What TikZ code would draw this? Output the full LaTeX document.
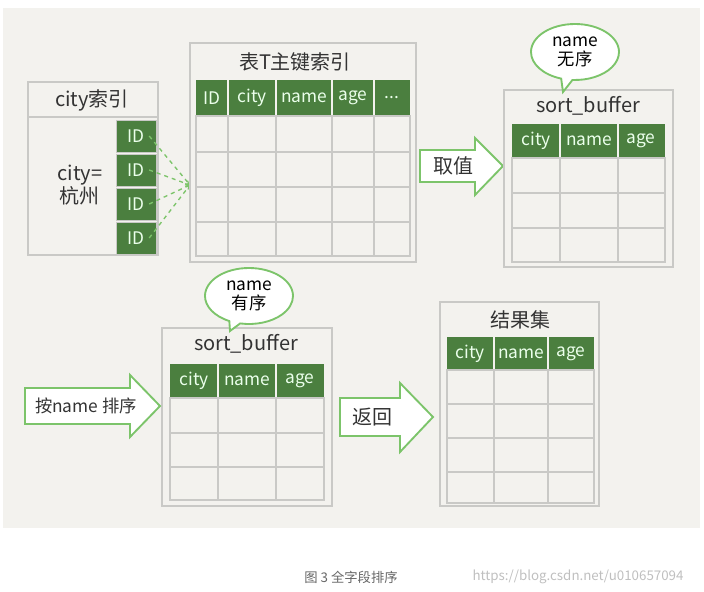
\documentclass[tikz,border=0pt]{standalone}
\usepackage{fontspec}
\setmainfont{Noto Sans CJK SC}
\usetikzlibrary{shapes.geometric,shapes.callouts}
\definecolor{bg}{HTML}{F3F2EE}
\definecolor{hd}{HTML}{4B7F3F}
\definecolor{gl}{HTML}{C9C9C6}
\definecolor{ga}{HTML}{7CC46A}
\tikzset{
  outer/.style={draw=gl,line width=1.6pt},
  grid/.style={draw=gl,line width=1.4pt},
  hdr/.style={fill=hd},
  ht/.style={text=white!92!green,font=\fontsize{13}{13}\selectfont},
  ttl/.style={text=black!80,font=\fontsize{15}{15}\selectfont},
  barrow/.style={draw=ga,line width=1.4pt,fill=white},
}
\begin{document}
\begin{tikzpicture}[x=0.75pt,y=-0.75pt]
\useasboundingbox (0,0) rectangle (704,592);
\fill[bg] (3,8) rectangle (700,528);
% city index
\draw[outer,fill=bg] (28,82) rectangle (158,255);
\draw[grid] (28,117) -- (158,117);
\node[ttl] (ct) at (92,100) {city索引};
\node[ttl,align=center] (cv) at (80,185) {city=\\杭州};
\foreach \y/\n in {120/a,154/b,188/c,222/d}{
  \draw[hdr,draw=gl] (116,\y) rectangle (156,\y+32);
  \node[ht] (id\n) at (136,\y+16) {ID};
}
\coordinate (tgt) at (190,185);
\foreach \n in {a,b,c,d} \draw[ga,dashed,line width=1pt,->] (id\n.east) -- (tgt);
% table T
\draw[outer] (190,43) rectangle (416,262);
\node[ttl] (tt) at (295,62) {表T主键索引};
\fill[hd] (196,80) rectangle (410,116);
\foreach \x in {228,276,332,374} \draw[bg,line width=1.4pt] (\x,80) -- (\x,116);
\foreach \x/\t in {212/ID,252/city,304/name,353/age} \node[ht] at (\x,98) {\t};
\node[ht] (dots) at (392,98) {{.}{.}{.}};
\foreach \y in {152,187,222} \draw[grid] (196,\y) -- (410,\y);
\foreach \x in {228,276,332,374} \draw[grid] (\x,116) -- (\x,256);
\draw[grid] (196,116) rectangle (410,256);
% arrow 取值
\draw[barrow] (420,150) -- (475,150) -- (475,138) -- (503,166) -- (475,195) -- (475,182) -- (420,182) -- cycle;
\node[ttl] (qz) at (453,166) {取值};
% sort buffer 1
\draw[outer] (504,90) rectangle (673,267);
\node[ttl] (sb1) at (588,106) {sort\_buffer};
\fill[hd] (512,124) rectangle (665,158);
\foreach \x in {560,618} \draw[bg,line width=1.4pt] (\x,124) -- (\x,158);
\foreach \x/\t in {536/city,589/name,641/age} \node[ht] at (\x,141) {\t};
\foreach \y in {193,228} \draw[grid] (512,\y) -- (665,\y);
\foreach \x in {560,618} \draw[grid] (\x,158) -- (\x,262);
\draw[grid] (512,158) rectangle (665,262);
\node[ellipse callout,draw=ga,fill=white,line width=1.4pt,minimum width=66pt,minimum height=42pt,callout absolute pointer={(563,92)},align=center,inner sep=0pt,font=\fontsize{13}{14}\selectfont] (bb1) at (575,52) {name\\无序};
% sort buffer 2
\draw[outer] (162,328) rectangle (332,506);
\node[ttl] (sb2) at (246,344) {sort\_buffer};
\fill[hd] (170,364) rectangle (324,398);
\foreach \x in {218,276} \draw[bg,line width=1.4pt] (\x,364) -- (\x,398);
\foreach \x/\t in {194/city,247/name,300/age} \node[ht] at (\x,381) {\t};
\foreach \y in {433,467} \draw[grid] (170,\y) -- (324,\y);
\foreach \x in {218,276} \draw[grid] (\x,398) -- (\x,500);
\draw[grid] (170,398) rectangle (324,500);
\node[ellipse callout,draw=ga,fill=white,line width=1.4pt,minimum width=66pt,minimum height=42pt,callout absolute pointer={(230,331)},align=center,inner sep=0pt,font=\fontsize{13}{14}\selectfont] (bb2) at (249,296) {name\\有序};
% arrow 按name排序
\draw[barrow] (25,388) -- (130,388) -- (130,375) -- (160,406) -- (130,437) -- (130,424) -- (25,424) -- cycle;
\node[ttl,font=\fontsize{13}{13}\selectfont] (an) at (86,406) {按name 排序};
% arrow 返回
\draw[barrow] (340,398) -- (400,398) -- (400,383) -- (433,417) -- (400,452) -- (400,436) -- (340,436) -- cycle;
\node[ttl] (fh) at (372,417) {返回};
% result
\draw[outer] (440,302) rectangle (599,506);
\node[ttl] (jg) at (520,320) {结果集};
\fill[hd] (447,337) rectangle (594,370);
\foreach \x in {494,548} \draw[bg,line width=1.4pt] (\x,337) -- (\x,370);
\foreach \x/\t in {470/city,521/name,571/age} \node[ht] at (\x,354) {\t};
\foreach \y in {404,438,472} \draw[grid] (447,\y) -- (594,\y);
\foreach \x in {494,548} \draw[grid] (\x,370) -- (\x,503);
\draw[grid] (447,370) rectangle (594,503);
% caption
\node[text=black!60,font=\fontsize{10}{10}\selectfont] (cap) at (351,577) {图 3 全字段排序};
\node[text=black!25,font=\fontsize{10}{10}\selectfont] (wm) at (578,577) {https://blog.csdn.net/u010657094};
\end{tikzpicture}
\end{document}
